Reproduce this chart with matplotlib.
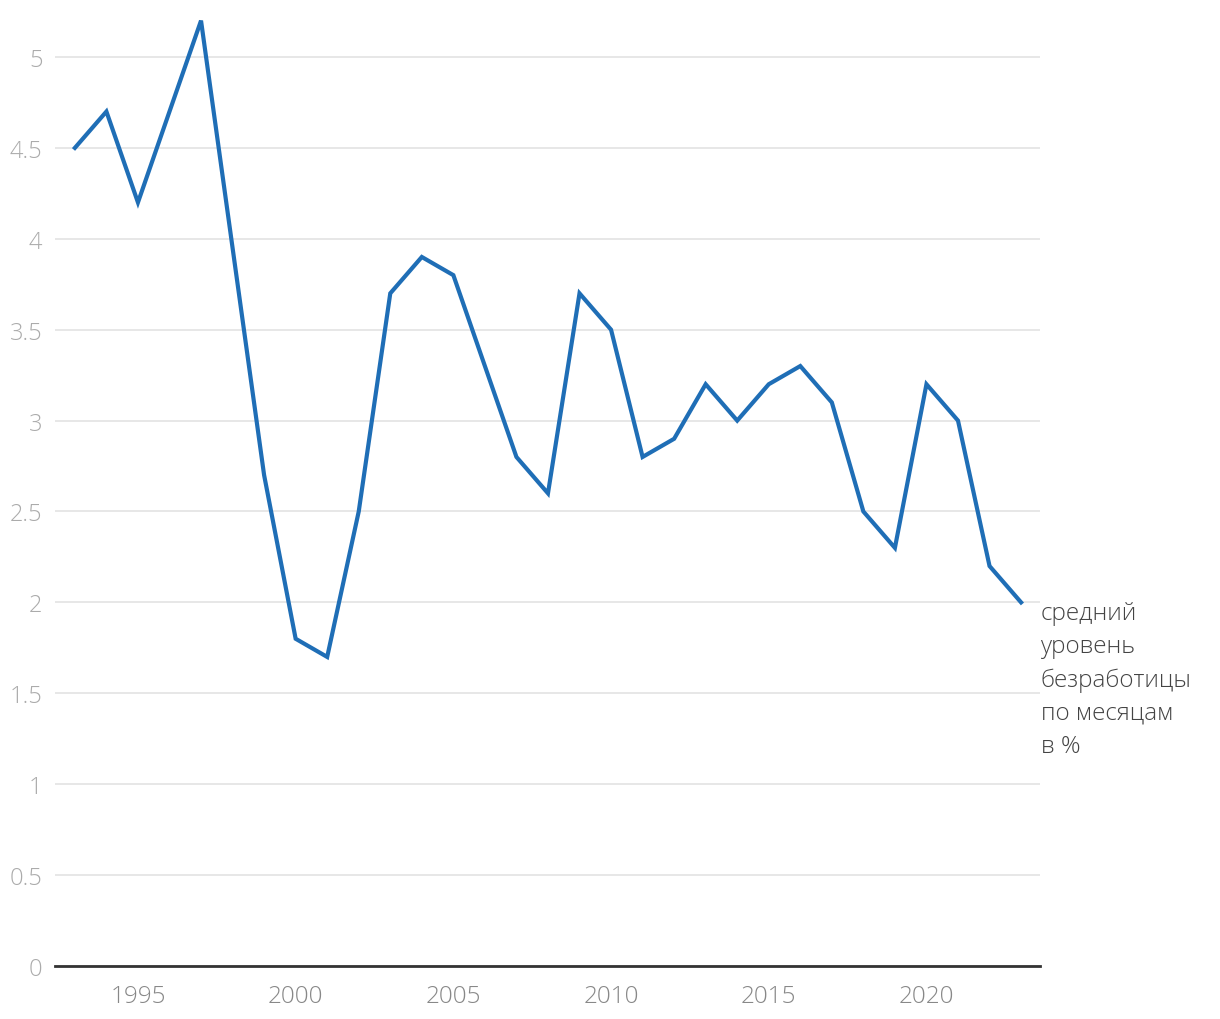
import matplotlib
matplotlib.use("Agg")
import matplotlib.pyplot as plt

years = list(range(1993, 2024))
values = [4.5, 4.7, 4.2, 4.7, 5.2, 3.95, 2.7, 1.8, 1.7, 2.5, 3.7, 3.9, 3.8, 3.3, 2.8, 2.6,
          3.7, 3.5, 2.8, 2.9, 3.2, 3.0, 3.2, 3.3, 3.1, 2.5, 2.3, 3.2, 3.0, 2.2, 2.0]
yticks = [0, 0.5, 1, 1.5, 2, 2.5, 3, 3.5, 4, 4.5, 5]
ytick_labels = ["0", "0.5", "1", "1.5", "2", "2.5", "3", "3.5", "4", "4.5", "5"]
xticks = [1995, 2000, 2005, 2010, 2015, 2020]
label = "средний\nуровень\nбезработицы\nпо месяцам\nв %"

plt.rcParams['font.family'] = ['Open Sans', 'DejaVu Sans']

fig = plt.figure(figsize=(12.2, 10.2), dpi=100)
ax = fig.add_axes([55/1220, 53/1020, 985/1220, 955/1020])
ax.set_xlim(1992.37, 2023.6)
ax.set_ylim(0, 5.253)

ax.plot(years, values, color='#1f6eb6', lw=3, solid_joinstyle='miter', zorder=3, clip_on=False)

ax.set_yticks(yticks)
ax.set_yticklabels(ytick_labels)
ax.set_xticks(xticks)
ax.grid(axis='y', color='#e3e3e3', lw=1.2)
ax.set_axisbelow(True)
for s in ['top', 'right', 'left']:
    ax.spines[s].set_visible(False)
ax.spines['bottom'].set_color('#333333')
ax.spines['bottom'].set_linewidth(2)
ax.spines['bottom'].set_zorder(4)
ax.tick_params(axis='y', length=0, pad=9, labelsize=17, labelcolor='#ababab')
ax.tick_params(axis='x', length=0, pad=13, labelsize=17.5, labelcolor='#888888')
for t in ax.get_xticklabels() + ax.get_yticklabels():
    t.set_fontweight('light')

ax.annotate(label, xy=(years[-1], values[-1]), xytext=(14, 1), textcoords='offset points',
            ha='left', va='top', fontsize=17.5, color='#444444', fontweight='light',
            linespacing=1.5, annotation_clip=False)

fig.savefig('out.png', dpi=100)
